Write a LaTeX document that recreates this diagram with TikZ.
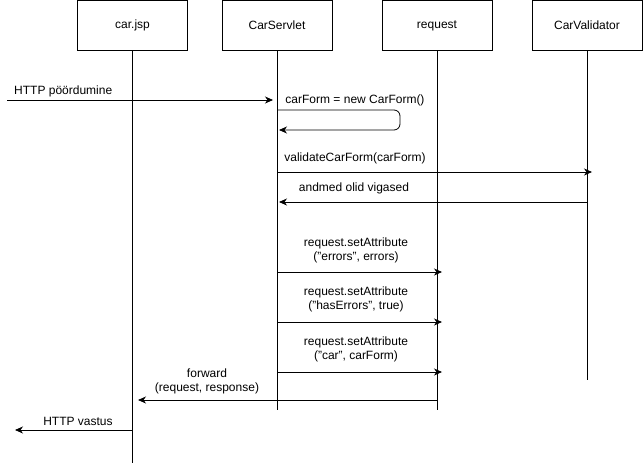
\documentclass[tikz,border=0pt]{standalone}
\usepackage{fontspec}
\setmainfont{Liberation Sans}
\usetikzlibrary{arrows.meta}
\begin{document}
\begin{tikzpicture}[x=1pt,y=-1pt,
  box/.style={draw,line width=0.8pt,minimum width=110pt,minimum height=50pt,inner sep=0pt,font=\fontsize{12}{14}\selectfont},
  life/.style={line width=0.8pt},
  msg/.style={line width=0.8pt,-{Stealth[length=8pt,width=7pt,inset=2.5pt]}},
  lbl/.style={font=\fontsize{12}{14}\selectfont,align=center,inner sep=0pt}]
\useasboundingbox (0,0) rectangle (644,463);
% participants
\node[box] (jsp) at (132.5,25.5) {car.jsp};
\node[box] (srv) at (277,25.5) {CarServlet};
\node[box] (req) at (437,25.5) {request};
\node[box] (val) at (587,25.5) {CarValidator};
% lifeline ends
\coordinate (jspE) at (132.5,463);
\coordinate (srvE) at (277,410);
\coordinate (reqE) at (437,410);
\coordinate (valE) at (587,380);
\draw[life] (jsp.south) -- (jspE);
\draw[life] (srv.south) -- (srvE);
\draw[life] (req.south) -- (reqE);
\draw[life] (val.south) -- (valE);
% HTTP request
\coordinate (inS) at (7,100);
\coordinate (inE) at (273,100);
\draw[msg] (inS) -- (inE);
\node[lbl,anchor=west] (inL) at (14,91) {HTTP pöördumine};
% self call
\coordinate (selfA) at (277,110);
\coordinate (selfB) at (400,110);
\coordinate (selfC) at (400,130);
\coordinate (selfD) at (279,130);
\draw[msg,rounded corners=6pt] (selfA) -- (selfB) -- (selfC) -- (selfD);
\node[lbl] (selfL) at (355,100) {carForm = new CarForm()};
% validate
\coordinate (vS) at (277,172);
\coordinate (vE) at (592,172);
\draw[msg] (vS) -- (vE);
\node[lbl] (vL) at (355,158) {validateCarForm(carForm)};
% return
\coordinate (rS) at (587,202);
\coordinate (rE) at (279,202);
\draw[msg] (rS) -- (rE);
\node[lbl] (rL) at (354,188) {andmed olid vigased};
% set attributes
\coordinate (a1S) at (277,272);
\coordinate (a1E) at (442,272);
\draw[msg] (a1S) -- (a1E);
\node[lbl] (a1L) at (356,250) {request.setAttribute\\("errors", errors)};
\coordinate (a2S) at (277,322);
\coordinate (a2E) at (442,322);
\draw[msg] (a2S) -- (a2E);
\node[lbl] (a2L) at (356,299) {request.setAttribute\\("hasErrors", true)};
\coordinate (a3S) at (277,372);
\coordinate (a3E) at (442,372);
\draw[msg] (a3S) -- (a3E);
\node[lbl] (a3L) at (356,349) {request.setAttribute\\("car", carForm)};
% forward
\coordinate (fS) at (437,400);
\coordinate (fE) at (138,400);
\draw[msg] (fS) -- (fE);
\node[lbl] (fL) at (207,381) {forward\\(request, response)};
% response
\coordinate (oS) at (132.5,430);
\coordinate (oE) at (15,430);
\draw[msg] (oS) -- (oE);
\node[lbl] (oL) at (78,421) {HTTP vastus};
\end{tikzpicture}
\end{document}
